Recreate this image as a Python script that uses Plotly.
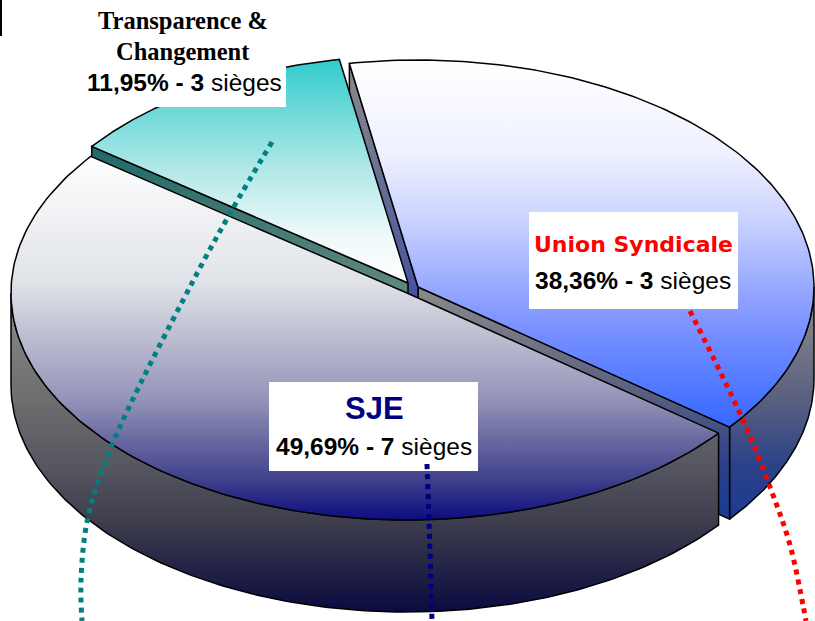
import numpy as np
import plotly.graph_objects as go

# ---- data ----
parties = ["Transparence & Changement", "Union Syndicale", "SJE"]
shares = [11.95, 38.36, 49.69]
seats = [3, 3, 7]

# ---- pie geometry (pixels, y down) ----
START_ANGLE = 143.0
RX, RY, DEPTH = 396.0, 227.0, 92.0
APEX_T = (408.0, 283.0)
APEX_U = (418.0, 287.0)
APEX_S = (407.0, 293.0)
EDGE = dict(color="black", width=1.5)

ang = START_ANGLE - np.cumsum([0] + shares) * 3.6
A_TU, A_UT = ang[0], ang[1]
A_US = ang[2]
A_SE = ang[3]


def pt(apex, a, dy=0.0):
    r = np.radians(a)
    return apex[0] + RX * np.cos(r), apex[1] - RY * np.sin(r) + dy


def arc(apex, a0, a1, dy=0.0, n=160):
    t = np.linspace(a0, a1, n)
    r = np.radians(t)
    return apex[0] + RX * np.cos(r), apex[1] - RY * np.sin(r) + dy


fig = go.Figure()


def poly(x, y, stops, y0, y1, line=EDGE):
    x = list(x) + [x[0]]
    y = list(y) + [y[0]]
    fig.add_trace(go.Scatter(
        x=x, y=y, mode="lines", line=line, fill="toself", hoverinfo="skip",
        showlegend=False,
        fillgradient=dict(type="vertical", colorscale=stops, start=y0, stop=y1),
    ))


def top(apex, a0, a1, stops, y0, y1):
    ax, ay = arc(apex, a0, a1)
    poly([apex[0]] + list(ax), [apex[1]] + list(ay), stops, y0, y1)


def chord_wall(apex, a, stops, y0, y1):
    px, py = pt(apex, a)
    poly([apex[0], px, px, apex[0]],
         [apex[1], py, py + DEPTH, apex[1] + DEPTH], stops, y0, y1)


def outer_wall(apex, a0, a1, stops, y0, y1):
    ax, ay = arc(apex, a0, a1)
    bx, by = arc(apex, a1, a0, DEPTH)
    poly(list(ax) + list(bx), list(ay) + list(by), stops, y0, y1)


# Union Syndicale
U_WALL = [[0, "#8a8a8a"], [0.45, "#5a6080"], [0.75, "#2c4288"], [1, "#1a3a94"]]
outer_wall(APEX_U, 0, A_US, U_WALL, 300, 520)
chord_wall(APEX_U, A_US, U_WALL, 287, 520)
chord_wall(APEX_U, A_UT, [[0, "#8a8a8a"], [0.7, "#4a55a0"], [1, "#2040a0"]], 63, 380)
top(APEX_U, A_UT, A_US,
    [[0, "#ffffff"], [0.25, "#eef0ff"], [0.42, "#ccd4ff"], [0.7, "#7f95ff"], [1, "#3366ff"]], 63, 430)

# Transparence & Changement
chord_wall(APEX_T, A_TU, [[0, "#206868"], [1, "#608880"]], 148, 290)
top(APEX_T, A_TU, A_UT,
    [[0, "#33cccc"], [0.5, "#b4e8e8"], [0.8, "#f0fafa"], [1, "#ffffff"]], 60, 283)

# SJE
outer_wall(APEX_S, 180, A_US + 360,
           [[0, "#8c8c8c"], [0.33, "#6e6e6e"], [0.55, "#555560"], [0.72, "#3c3c4c"], [1, "#0a0a40"]], 293, 613)
top(APEX_S, A_US, A_SE,
    [[0, "#ffffff"], [0.35, "#e0e3e8"], [0.67, "#9494b8"], [0.89, "#40408c"], [1, "#0c0c80"]], 153, 520)

# ---- label boxes ----
BOXES = [(82, 0, 286, 107), (529, 212, 738, 309), (269, 382, 478, 471)]
for x0, y0, x1, y1 in BOXES:
    fig.add_trace(go.Scatter(
        x=[x0, x1, x1, x0, x0], y=[y0, y0, y1, y1, y0], mode="lines",
        line=dict(width=0, color="white"), fill="toself", fillcolor="white",
        hoverinfo="skip", showlegend=False))

# ---- dotted leader lines ----
leader_teal_x = [272, 232, 192, 112, 88, 81, 82]
leader_teal_y = [142, 210, 283, 445, 517, 580, 621]
leader_navy_x = [427, 429, 432]
leader_navy_y = [464, 520, 621]
leader_red_x = [690, 742, 770, 790, 803, 806]
leader_red_y = [311, 418, 487, 545, 605, 621]
for lx, ly, col in [(leader_teal_x, leader_teal_y, "#008080"),
                    (leader_navy_x, leader_navy_y, "#000080"),
                    (leader_red_x, leader_red_y, "#ff0000")]:
    fig.add_trace(go.Scatter(
        x=lx, y=ly, mode="lines", hoverinfo="skip", showlegend=False,
        line=dict(color=col, width=5, dash="dot", shape="spline")))


# ---- texts ----
def note(x, y, text, family, size, color="black"):
    fig.add_annotation(x=x, y=y, text=text, showarrow=False, xanchor="center", yanchor="middle",
                       font=dict(family=family, size=size, color=color))


def stat(i):
    pct = f"{shares[i]:.2f}".replace(".", ",")
    return f"<b>{pct}% - {seats[i]}</b> sièges"


SANS = "Liberation Sans"
SERIF = "Liberation Serif"
note(183, 20, "<b>Transparence &</b>", SERIF, 24.5)
note(183, 51, "<b>Changement</b>", SERIF, 24.5)
note(184, 82, stat(0), SANS, 24.5)
note(633, 244, "<b>Union Syndicale</b>", "DejaVu Sans", 22, "#ff0000")
note(633, 280, stat(1), SANS, 24.5)
note(374, 408, "<b>SJE</b>", SANS, 31, "#000080")
note(374, 446, stat(2), SANS, 24.5)

# small mark at the picture's top-left edge
fig.add_shape(type="rect", x0=0, x1=2, y0=0, y1=36, fillcolor="black", line_width=0, layer="above")

fig.update_layout(
    width=815, height=621, margin=dict(l=0, r=0, t=0, b=0),
    paper_bgcolor="white", plot_bgcolor="white", showlegend=False,
    xaxis=dict(range=[0, 815], visible=False, fixedrange=True),
    yaxis=dict(range=[621, 0], visible=False, fixedrange=True),
)
fig.write_html("out.html", config={"displayModeBar": False},
               post_script="document.body.style.margin='0';")
